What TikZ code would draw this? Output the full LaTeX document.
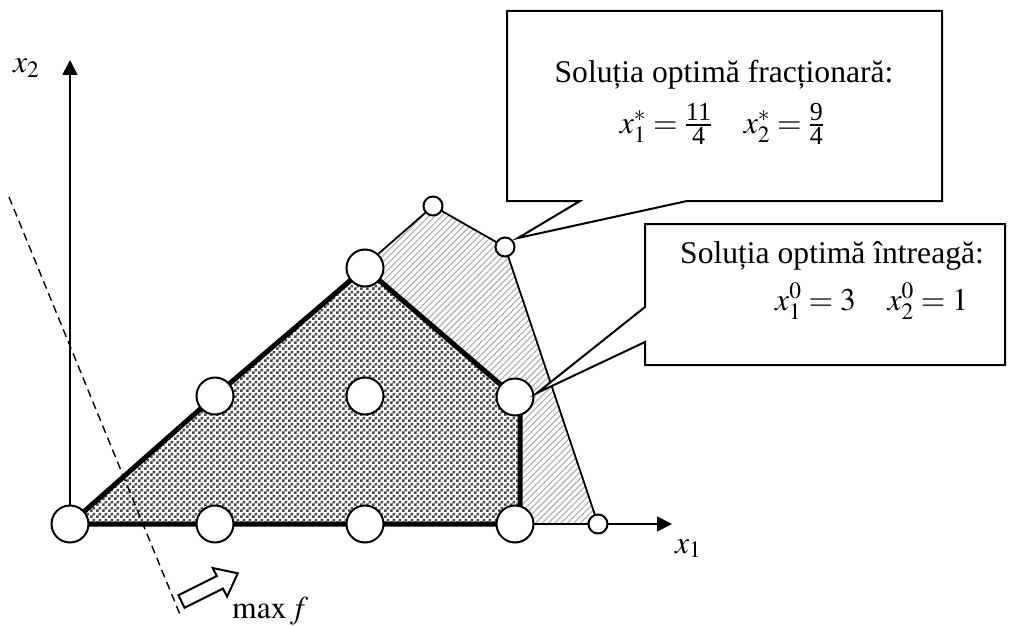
\documentclass[tikz,border=0pt]{standalone}
\usepackage{mathptmx}
\usepackage{fontspec}
\setmainfont{Liberation Serif}
\usetikzlibrary{patterns,patterns.meta,arrows.meta}
\pgfdeclarepatternformonly{mychecker}{\pgfpointorigin}{\pgfqpoint{6pt}{6pt}}{\pgfqpoint{6pt}{6pt}}{%
  \pgfpathrectangle{\pgfpointorigin}{\pgfqpoint{3.05pt}{3.05pt}}%
  \pgfpathrectangle{\pgfqpoint{3pt}{3pt}}{\pgfqpoint{3.05pt}{3.05pt}}%
  \pgfusepath{fill}}
\newcommand{\fracnum}[1]{\mbox{\fontsize{26}{28}\selectfont #1}}
\begin{document}
\begin{tikzpicture}[x=1pt,y=-1pt,
  txt/.style={inner sep=0pt,font=\fontsize{31.6}{38}\selectfont},
  bigpt/.style={circle,draw,fill=white,line width=2pt,minimum size=37pt,inner sep=0pt},
  smallpt/.style={circle,draw,fill=white,line width=2pt,minimum size=19pt,inner sep=0pt},
  thinedge/.style={line width=1.8pt,line join=round},
  thickedge/.style={line width=5pt,line join=miter},
  axisline/.style={line width=1.8pt,-{Triangle[length=15pt,width=15pt]}},
  callout/.style={draw,fill=white,line width=2pt,line join=miter},
  hatchfill/.style={pattern={Lines[angle=45,distance=4.5pt,line width=1.1pt]},pattern color=black!32},
  checkfill/.style={pattern=mychecker,pattern color=black!72}
]
\useasboundingbox (0,0) rectangle (1010,626);
% lattice and vertex coordinates
\coordinate (o) at (70,524);
\coordinate (p10) at (215,524);
\coordinate (p20) at (365,524);
\coordinate (p30) at (515,524);
\coordinate (p11) at (215,396);
\coordinate (p21) at (365,396);
\coordinate (p31) at (515,397);
\coordinate (p22) at (365,268);
\coordinate (q1) at (433,206);
\coordinate (q2) at (505,247);
\coordinate (q3) at (598,524);
\coordinate (k1) at (520,400);
\coordinate (k2) at (520,524);
\coordinate (xend) at (672,524);
\coordinate (yend) at (70,60);
\coordinate (d1) at (9,197);
\coordinate (d2) at (181,617);
% fills
\fill[hatchfill] (o) -- (q1) -- (q2) -- (q3) -- cycle;
\fill[white] (o) -- (p11) -- (p22) -- (p31) -- (k1) -- (k2) -- cycle;
\fill[checkfill] (o) -- (p11) -- (p22) -- (p31) -- (k1) -- (k2) -- cycle;
% outer boundary
\draw[thinedge] (o) -- (q1) -- (q2) -- (q3);
% objective line
\draw[line width=1.4pt,dash pattern=on 8pt off 5pt] (d1) -- (d2);
% inner (integer hull) boundary
\draw[thickedge] (o) -- (p11) -- (p22) -- (p31) -- (k1) -- (k2) -- cycle;
% axes
\draw[axisline] (o) -- (xend);
\draw[axisline] (o) -- (yend);
% points
\node[bigpt] (n00) at (o) {};
\node[bigpt] (n10) at (p10) {};
\node[bigpt] (n20) at (p20) {};
\node[bigpt] (n30) at (p30) {};
\node[bigpt] (n11) at (p11) {};
\node[bigpt] (n21) at (p21) {};
\node[bigpt] (n31) at (p31) {};
\node[bigpt] (n22) at (p22) {};
\node[smallpt] (m1) at (q1) {};
\node[smallpt] (m2) at (q2) {};
\node[smallpt] (m3) at (q3) {};
% axis labels
\node[txt,anchor=base west] (lx2) at (13,73) {$x_2$};
\node[txt,anchor=base west] (lx1) at (675,553) {$x_1$};
% objective direction arrow
\draw[line width=2pt,fill=white,line join=miter] (184.6,607.8) -- (223.0,588.6) -- (227.1,596.6) -- (237.8,573.3) -- (212.7,568.0) -- (216.8,576.0) -- (178.4,595.2) -- cycle;
\node[txt,anchor=base west] (lmax) at (232,618) {$\max f$};
% callout 1
\coordinate (tip1) at (518,238);
\draw[callout] (507,11) -- (942,11) -- (942,201) -- (687,201) -- (tip1) -- (580,201) -- (507,201) -- cycle;
\node[txt,anchor=base] (t1) at (724,82) {Soluția optimă fracționară:};
\node[txt,anchor=base] (t2) at (722,133) {$x_1^*=\frac{\fracnum{11}}{\fracnum{4}}\quad x_2^*=\frac{\fracnum{9}}{\fracnum{4}}$};
% callout 2
\coordinate (tip2) at (537,393);
\draw[callout] (645,224) -- (1005,224) -- (1005,365) -- (645,365) -- (645,342) -- (tip2) -- (645,307) -- cycle;
\node[txt,anchor=base west] (t3) at (680,263) {Soluția optimă întreagă:};
\node[txt,anchor=base west] (t4) at (775,310) {$x_1^0=3\quad x_2^0=1$};
\end{tikzpicture}
\end{document}
